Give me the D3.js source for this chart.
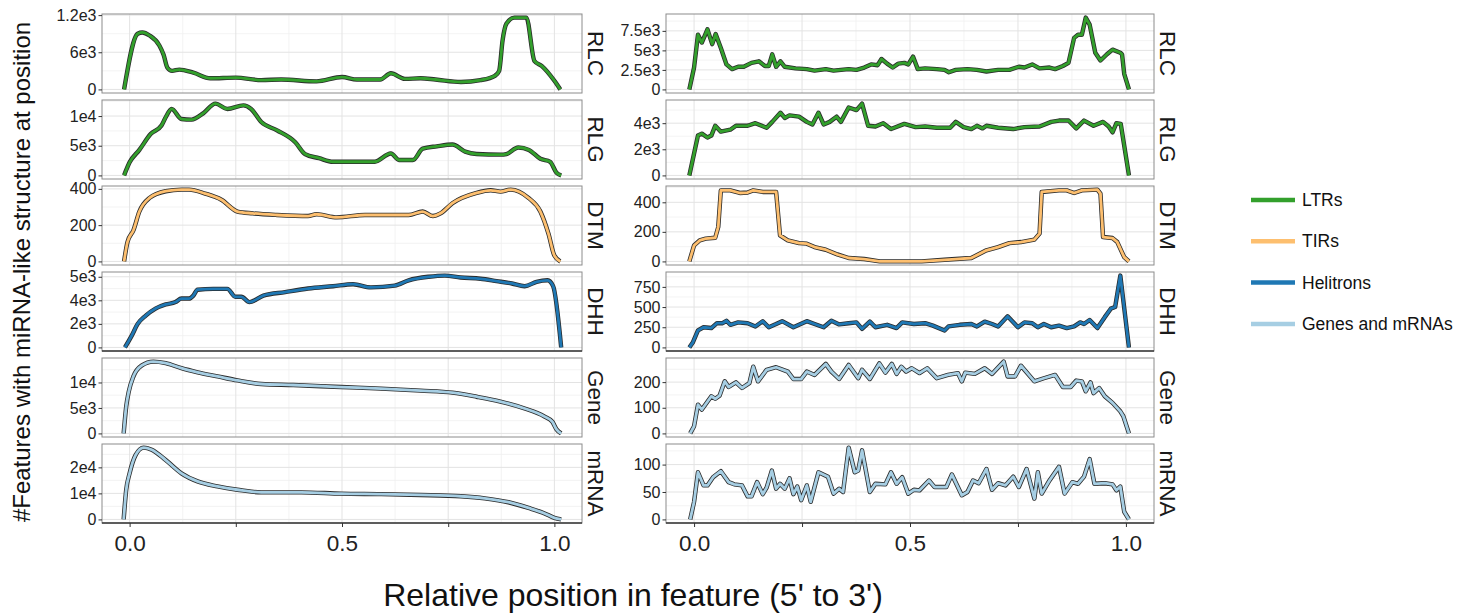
<!DOCTYPE html>
<html>
<head>
<meta charset="utf-8">
<script src="https://cdn.jsdelivr.net/npm/d3@7"></script>
<style>
  body { margin: 0; background: #fff; }
  svg { font-family: "Liberation Sans", Arial, sans-serif; }
</style>
</head>
<body>
<svg id="chart" width="1457" height="614"></svg>
<script>
// facet rows and legend groups
const rows = ["RLC", "RLG", "DTM", "DHH", "Gene", "mRNA"];
const rowGroup = ["LTRs", "LTRs", "TIRs", "Helitrons", "Genes and mRNAs", "Genes and mRNAs"];
const groups = ["LTRs", "TIRs", "Helitrons", "Genes and mRNAs"];
const groupColors = ["#33a02c", "#fdbf6f", "#1f78b4", "#a6cee3"];

const xTicks = [0, 0.25, 0.5, 0.75, 1];
const xTickLabels = ["0.0", "", "0.5", "", "1.0"];
const xMinor = [0.125, 0.375, 0.625, 0.875];

// y ticks per panel (labels as printed on the figure)
const leftTicks = [[0, 6000, 12000], [0, 5000, 10000], [0, 200, 400], [0, 2000, 4000, 6000], [0, 5000, 10000], [0, 10000, 20000]];
const leftTickLabels = [["0", "6e3", "1.2e3"], ["0", "5e3", "1e4"], ["0", "200", "400"], ["0", "2e3", "4e3", "5e3"], ["0", "5e3", "1e4"], ["0", "1e4", "2e4"]];
const rightTicks = [[0, 2500, 5000, 7500], [0, 2000, 4000], [0, 200, 400], [0, 250, 500, 750], [0, 100, 200], [0, 50, 100]];
const rightTickLabels = [["0", "2.5e3", "5e3", "7.5e3"], ["0", "2e3", "4e3"], ["0", "200", "400"], ["0", "250", "500", "750"], ["0", "100", "200"], ["0", "50", "100"]];

// left column series: [relative position, count]
const leftRLC = [[-0.013,0],[0.019,9000],[0.03,9200],[0.047,8700],[0.07,7100],[0.08,5600],[0.089,3500],[0.1,3000],[0.117,3200],[0.15,2700],[0.19,1800],[0.25,1900],[0.31,1500],[0.357,1600],[0.44,1300],[0.5,2000],[0.535,1600],[0.59,1600],[0.615,2600],[0.648,1700],[0.685,1800],[0.72,1600],[0.78,1200],[0.826,1500],[0.86,2200],[0.87,3000],[0.878,7900],[0.887,10600],[0.906,11600],[0.934,11600],[0.953,4600],[0.97,3800],[1.0,1400],[1.014,0]];
const leftRLG = [[-0.013,0],[0,2200],[0.023,4300],[0.05,7000],[0.075,8400],[0.085,9800],[0.099,11200],[0.122,9500],[0.146,9400],[0.174,10500],[0.202,12100],[0.23,11200],[0.268,11800],[0.286,11200],[0.31,9000],[0.347,7600],[0.39,5600],[0.413,3600],[0.446,2900],[0.479,2300],[0.535,2300],[0.577,2300],[0.615,3700],[0.634,2600],[0.667,2600],[0.69,4500],[0.723,4900],[0.76,5200],[0.79,4000],[0.817,3600],[0.873,3500],[0.887,3600],[0.915,4700],[0.94,4300],[0.967,2800],[0.99,2300],[1.005,450],[1.016,0]];
const leftDTM = [[-0.013,0],[-0.005,107],[0.009,172],[0.023,275],[0.047,350],[0.085,387],[0.122,396],[0.14,396],[0.178,374],[0.216,340],[0.254,275],[0.29,265],[0.347,256],[0.42,250],[0.44,260],[0.488,243],[0.554,256],[0.657,256],[0.69,275],[0.714,250],[0.732,265],[0.76,321],[0.817,378],[0.85,392],[0.873,385],[0.897,396],[0.939,350],[0.967,275],[0.986,153],[1.0,32],[1.014,0]];
const leftDHH = [[-0.011,0],[0.005,1000],[0.019,2000],[0.038,2700],[0.061,3300],[0.085,3650],[0.108,3850],[0.122,4150],[0.14,4150],[0.15,4400],[0.16,4900],[0.197,4970],[0.23,4970],[0.249,4300],[0.263,4300],[0.282,3850],[0.315,4400],[0.366,4700],[0.42,5000],[0.479,5200],[0.526,5370],[0.568,5100],[0.624,5250],[0.657,5700],[0.704,6000],[0.742,6100],[0.779,5940],[0.826,5830],[0.864,5630],[0.9,5430],[0.93,5200],[0.958,5570],[0.984,5700],[0.997,5200],[1.016,0]];
const leftGene = [[-0.014,0],[-0.008,5300],[-0.002,8200],[0.009,11200],[0.028,13300],[0.056,14100],[0.085,13800],[0.122,12800],[0.16,12000],[0.207,11200],[0.254,10400],[0.31,9700],[0.385,9500],[0.498,9100],[0.592,8800],[0.685,8400],[0.76,8000],[0.817,7200],[0.873,6250],[0.93,4900],[0.977,3300],[0.995,2300],[1.005,800],[1.016,0]];
const leftMRNA = [[-0.014,0],[-0.008,11400],[0,17700],[0.014,24700],[0.033,27600],[0.052,26800],[0.085,22800],[0.122,17700],[0.16,14600],[0.207,12700],[0.254,11400],[0.31,10400],[0.404,10400],[0.498,9900],[0.592,9700],[0.685,9400],[0.78,8900],[0.836,8100],[0.892,6600],[0.939,4400],[0.977,2300],[1.0,600],[1.016,0]];

// right column series
const rightRLC = [[-0.011,0],[0,2800],[0.009,7000],[0.018,6000],[0.031,7700],[0.042,5800],[0.05,7100],[0.062,5300],[0.075,3200],[0.088,2600],[0.102,2900],[0.115,2900],[0.133,3400],[0.15,3600],[0.164,3000],[0.173,3000],[0.181,4500],[0.19,2900],[0.2,3600],[0.21,2900],[0.235,2700],[0.261,2600],[0.279,2400],[0.305,2600],[0.323,2400],[0.34,2500],[0.358,2600],[0.376,2500],[0.394,2800],[0.41,3200],[0.425,3100],[0.434,3900],[0.447,3300],[0.46,2800],[0.473,3300],[0.487,3400],[0.496,3200],[0.507,4200],[0.518,2600],[0.535,2700],[0.562,2600],[0.58,2500],[0.59,2200],[0.606,2500],[0.633,2600],[0.655,2500],[0.677,2300],[0.704,2500],[0.73,2500],[0.752,2900],[0.765,2800],[0.783,3200],[0.8,2700],[0.823,2800],[0.836,2600],[0.854,3000],[0.867,3400],[0.88,6600],[0.889,7000],[0.898,7000],[0.907,9200],[0.916,8300],[0.929,4700],[0.941,3700],[0.956,4500],[0.969,5100],[0.987,4700],[0.991,4500],[0.996,2000],[1.007,0]];
const rightRLG = [[-0.011,0],[0.009,3050],[0.018,3200],[0.031,2900],[0.04,3050],[0.049,3800],[0.062,3350],[0.084,3500],[0.097,3800],[0.124,3800],[0.142,4000],[0.168,3650],[0.181,4100],[0.2,4800],[0.21,4400],[0.221,4600],[0.243,4500],[0.261,4100],[0.274,3900],[0.288,4800],[0.3,3900],[0.314,4100],[0.33,4500],[0.34,4100],[0.358,5200],[0.376,5000],[0.389,5500],[0.403,3800],[0.42,3750],[0.438,4000],[0.456,3550],[0.487,3950],[0.513,3700],[0.535,3750],[0.562,3650],[0.593,3650],[0.606,4100],[0.624,3700],[0.642,3550],[0.655,3800],[0.668,3600],[0.677,3800],[0.704,3650],[0.739,3550],[0.765,3700],[0.8,3750],[0.827,4100],[0.845,4200],[0.867,4200],[0.885,3600],[0.903,4200],[0.925,3800],[0.947,4100],[0.96,3750],[0.969,3300],[0.978,4000],[0.988,3950],[1.007,0]];
const rightDTM = [[-0.011,0],[0,108],[0.013,142],[0.027,154],[0.049,160],[0.056,233],[0.062,481],[0.084,481],[0.106,463],[0.124,466],[0.137,481],[0.159,470],[0.19,470],[0.199,176],[0.217,142],[0.243,124],[0.261,120],[0.279,97],[0.305,79],[0.332,47],[0.358,23],[0.394,16],[0.43,0],[0.465,0],[0.527,0],[0.58,11],[0.606,16],[0.642,23],[0.677,75],[0.704,97],[0.73,124],[0.757,131],[0.788,147],[0.8,188],[0.805,470],[0.845,481],[0.863,481],[0.88,463],[0.898,481],[0.934,486],[0.941,459],[0.947,165],[0.969,158],[0.98,131],[0.996,29],[1.007,0]];
const rightDHH = [[-0.011,0],[-0.003,60],[0.009,210],[0.022,250],[0.04,240],[0.053,300],[0.066,300],[0.075,330],[0.084,280],[0.102,310],[0.124,300],[0.142,260],[0.159,325],[0.173,250],[0.19,290],[0.204,325],[0.23,250],[0.261,325],[0.279,290],[0.3,250],[0.318,330],[0.336,285],[0.358,300],[0.376,310],[0.389,230],[0.407,320],[0.42,250],[0.447,280],[0.469,240],[0.482,310],[0.509,290],[0.535,300],[0.553,270],[0.58,210],[0.589,260],[0.615,280],[0.642,290],[0.655,260],[0.673,320],[0.69,290],[0.704,260],[0.726,385],[0.75,250],[0.765,310],[0.783,300],[0.796,250],[0.81,290],[0.827,250],[0.845,270],[0.863,240],[0.88,260],[0.894,310],[0.903,290],[0.916,340],[0.934,240],[0.951,375],[0.965,480],[0.975,500],[0.987,890],[1.007,0]];
const rightGene = [[-0.009,0],[0,28],[0.009,112],[0.018,93],[0.04,145],[0.049,135],[0.059,147],[0.071,203],[0.08,181],[0.097,199],[0.111,177],[0.128,196],[0.137,260],[0.148,203],[0.168,248],[0.19,258],[0.217,241],[0.23,212],[0.248,212],[0.261,241],[0.279,228],[0.305,271],[0.318,241],[0.336,212],[0.358,267],[0.38,215],[0.389,248],[0.407,212],[0.429,273],[0.443,237],[0.458,271],[0.469,232],[0.48,260],[0.491,241],[0.504,254],[0.522,235],[0.54,254],[0.562,215],[0.588,228],[0.611,235],[0.62,203],[0.628,237],[0.65,232],[0.673,254],[0.69,232],[0.717,280],[0.726,222],[0.743,222],[0.757,264],[0.788,203],[0.81,215],[0.836,228],[0.854,181],[0.872,181],[0.885,206],[0.898,203],[0.907,164],[0.918,199],[0.925,157],[0.938,177],[0.951,145],[0.969,119],[0.987,86],[0.994,67],[1.007,0]];
const rightMRNA = [[-0.009,0],[0,32],[0.009,86],[0.022,62],[0.031,62],[0.044,77],[0.062,88],[0.08,68],[0.093,64],[0.111,62],[0.124,42],[0.133,42],[0.146,68],[0.159,46],[0.168,58],[0.18,89],[0.19,56],[0.199,65],[0.21,56],[0.221,75],[0.23,46],[0.239,60],[0.248,35],[0.261,62],[0.27,32],[0.288,86],[0.31,78],[0.323,47],[0.336,56],[0.345,50],[0.358,131],[0.372,86],[0.38,89],[0.389,126],[0.407,50],[0.42,65],[0.443,64],[0.456,86],[0.469,65],[0.482,77],[0.496,47],[0.509,54],[0.522,53],[0.544,71],[0.557,59],[0.584,59],[0.597,82],[0.62,44],[0.633,50],[0.646,71],[0.659,66],[0.677,92],[0.69,54],[0.704,66],[0.721,62],[0.739,78],[0.752,59],[0.77,92],[0.788,38],[0.796,86],[0.805,47],[0.823,71],[0.845,96],[0.858,47],[0.876,68],[0.889,65],[0.903,78],[0.916,110],[0.927,65],[0.951,66],[0.969,64],[0.978,53],[0.987,60],[0.996,14],[1.007,0]];

const leftSeries = [leftRLC, leftRLG, leftDTM, leftDHH, leftGene, leftMRNA];
const rightSeries = [rightRLC, rightRLG, rightDTM, rightDHH, rightGene, rightMRNA];

const svg = d3.select("#chart");

// layout (pixels)
const panelTop = 14, panelH = 79, panelGap = 7;
const columns = [
    {x0: 102, x1: 582, series: leftSeries, ticks: leftTicks, labels: leftTickLabels, curve: d3.curveMonotoneX},
    {x0: 666, x1: 1154, series: rightSeries, ticks: rightTicks, labels: rightTickLabels, curve: d3.curveLinear}
];
const colorOf = d3.scaleOrdinal().domain(groups).range(groupColors);

columns.forEach(col => {
    const x = d3.scaleLinear().domain([-0.065, 1.065]).range([col.x0, col.x1]);

    rows.forEach((name, i) => {
        const top = panelTop + i * (panelH + panelGap);
        const data = col.series[i];
        const maxV = d3.max(data, d => d[1]);
        const minV = Math.min(0, d3.min(data, d => d[1]));
        const pad = (maxV - minV) * 0.05;
        const y = d3.scaleLinear().domain([minV - pad, maxV + pad]).range([top + panelH, top]);

        const g = svg.append("g");

        // minor gridlines
        const tk = col.ticks[i];
        const step = tk[1] - tk[0];
        const minorY = [];
        for (let v = tk[0] + step / 2; v < y.domain()[1]; v += step) minorY.push(v);
        g.selectAll("line.ymin").data(minorY).join("line")
            .attr("x1", col.x0).attr("x2", col.x1)
            .attr("y1", d => y(d)).attr("y2", d => y(d))
            .attr("stroke", "#f0f0f0").attr("stroke-width", 0.8);
        g.selectAll("line.xmin").data(xMinor).join("line")
            .attr("x1", d => x(d)).attr("x2", d => x(d))
            .attr("y1", top).attr("y2", top + panelH)
            .attr("stroke", "#f0f0f0").attr("stroke-width", 0.8);
        // major gridlines
        g.selectAll("line.ymaj").data(tk.filter(v => y(v) >= top)).join("line")
            .attr("x1", col.x0).attr("x2", col.x1)
            .attr("y1", d => y(d)).attr("y2", d => y(d))
            .attr("stroke", "#e3e3e3").attr("stroke-width", 1);
        g.selectAll("line.xmaj").data(xTicks).join("line")
            .attr("x1", d => x(d)).attr("x2", d => x(d))
            .attr("y1", top).attr("y2", top + panelH)
            .attr("stroke", "#e3e3e3").attr("stroke-width", 1);

        // the series: dark edge under a coloured line
        const line = d3.line().x(d => x(d[0])).y(d => y(d[1])).curve(col.curve);
        g.append("path").datum(data)
            .attr("d", line)
            .attr("fill", "none")
            .attr("stroke", "#2b2b2b")
            .attr("stroke-width", 4.4)
            .attr("stroke-linejoin", "round");
        g.append("path").datum(data)
            .attr("d", line)
            .attr("fill", "none")
            .attr("stroke", colorOf(rowGroup[i]))
            .attr("stroke-width", 2.8)
            .attr("stroke-linejoin", "round");

        // panel border
        g.append("rect")
            .attr("x", col.x0).attr("y", top)
            .attr("width", col.x1 - col.x0).attr("height", panelH)
            .attr("fill", "none").attr("stroke", "#8c8c8c").attr("stroke-width", 1);

        // y axis
        const yAxis = d3.axisLeft(y)
            .tickValues(tk.filter(v => y(v) >= top - 1))
            .tickFormat(d => col.labels[i][tk.indexOf(d)])
            .tickSize(3.5).tickPadding(2);
        const ya = svg.append("g")
            .attr("transform", `translate(${col.x0},0)`)
            .call(yAxis);
        ya.select(".domain").remove();
        ya.selectAll("line").attr("stroke", "#333");
        ya.selectAll("text")
            .attr("fill", "#222")
            .style("font-size", "16px")
            .style("font-family", "'Liberation Sans', Arial, sans-serif");

        // strip label
        svg.append("text")
            .attr("transform", `translate(${col.x1 + 6},${top + panelH / 2}) rotate(90)`)
            .attr("text-anchor", "middle")
            .attr("fill", "#1a1a1a")
            .style("font-size", "22.5px")
            .text(name);

        // bottom axis lines
        if (i === 3 || i === 5) {
            svg.append("line")
                .attr("x1", col.x0).attr("x2", col.x1)
                .attr("y1", top + panelH).attr("y2", top + panelH)
                .attr("stroke", "#3a3a3a").attr("stroke-width", 1.6);
        }
        if (i === 5) {
            const xAxis = d3.axisBottom(x)
                .tickValues(xTicks)
                .tickFormat((d, k) => xTickLabels[k])
                .tickSize(4).tickPadding(8);
            const xa = svg.append("g")
                .attr("transform", `translate(0,${top + panelH})`)
                .call(xAxis);
            xa.select(".domain").remove();
            xa.selectAll("line").attr("stroke", "#333");
            xa.selectAll("text")
                .attr("fill", "#222")
                .style("font-size", "22.5px")
                .style("font-family", "'Liberation Sans', Arial, sans-serif");
        }
    });
});

// axis titles
svg.append("text")
    .attr("transform", "translate(30,272) rotate(-90)")
    .attr("text-anchor", "middle")
    .attr("fill", "#111")
    .style("font-size", "24px")
    .text("#Features with miRNA-like structure at position");

svg.append("text")
    .attr("x", 633).attr("y", 606)
    .attr("text-anchor", "middle")
    .attr("fill", "#111")
    .style("font-size", "32px")
    .text("Relative position in feature (5' to 3')");

// legend
const legend = svg.append("g").attr("transform", "translate(1251,200)");
groups.forEach((grp, k) => {
    const ly = k * 41.3;
    legend.append("line")
        .attr("x1", 0).attr("x2", 44)
        .attr("y1", ly).attr("y2", ly)
        .attr("stroke", groupColors[k]).attr("stroke-width", 4.5);
    legend.append("text")
        .attr("x", 51).attr("y", ly + 6)
        .attr("fill", "#111")
        .style("font-size", "17.5px")
        .text(grp);
});
</script>
</body>
</html>
